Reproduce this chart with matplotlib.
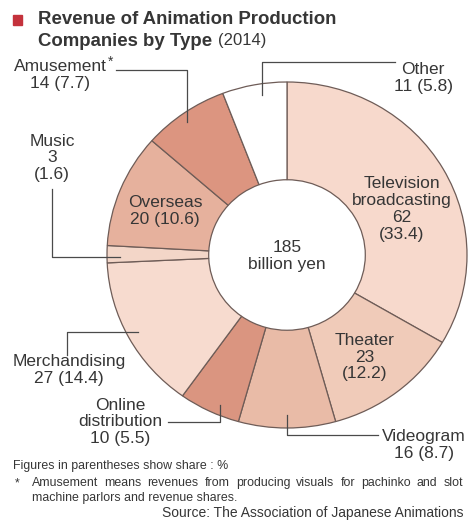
import matplotlib
matplotlib.use("Agg")
import matplotlib.pyplot as plt
from matplotlib.patches import Rectangle

W, H = 468, 522

# Revenue by type, 2014 (billion yen, share %), clockwise from 12 o'clock
categories = ["Television broadcasting", "Theater", "Videogram", "Online distribution",
              "Merchandising", "Music", "Overseas", "Amusement", "Other"]
values = [62, 23, 16, 10, 27, 3, 20, 14, 11]
shares = [33.4, 12.2, 8.7, 5.5, 14.4, 1.6, 10.6, 7.7, 5.8]
colors = ["#f7d9cc", "#f0cbb9", "#e9bba7", "#da9580", "#f7dbcf",
          "#f3d6c8", "#e6b19d", "#dc9580", "#ffffff"]
total = 185

plt.rcParams["font.family"] = ["Liberation Sans", "DejaVu Sans"]
TXT = "#363636"
LINE = "#4a4a4a"


def Y(y):
    # pixel row (from top) -> data y
    return H - y


fig = plt.figure(figsize=(W / 100, H / 100), dpi=100)
ax = fig.add_axes([0, 0, 1, 1])
ax.set_xlim(0, W)
ax.set_ylim(0, H)
ax.axis("off")

# donut in its own box (source image is slightly stretched horizontally)
cx, cy, rx, ry = 287, 255, 180, 173
pax = fig.add_axes([(cx - rx) / W, (H - cy - ry) / H, 2 * rx / W, 2 * ry / H])
pax.pie(shares, colors=colors, startangle=90, counterclock=False, radius=1,
        wedgeprops=dict(width=0.565, edgecolor="#6e5c57", linewidth=0.9))
pax.set_xlim(-1, 1)
pax.set_ylim(-1, 1)
pax.set_aspect("auto")
pax.axis("off")
pax.set_zorder(0)
ax.set_zorder(1)
ax.patch.set_visible(False)

# title
ax.add_patch(Rectangle((13, Y(25)), 9, 10, color="#c4323c"))
ax.text(38, Y(19), "Revenue of Animation Production", fontsize=13.4,
        fontweight="bold", color=TXT, va="center", ha="left")
t2 = ax.text(38, Y(41), "Companies by Type", fontsize=13.4, fontweight="bold",
             color=TXT, va="center", ha="left")
ax.annotate("(2014)", xy=(1, 0.5), xycoords=t2, xytext=(4, 0),
            textcoords="offset points", fontsize=12, color=TXT,
            va="center", ha="left")

lab = dict(fontsize=12.5, color=TXT, linespacing=1.15)


def fmt(i):
    return f"{values[i]} ({shares[i]})"


# centre
ax.text(cx, Y(256), f"{total}\nbillion yen", ha="center", va="center", **lab)

# labels inside the ring
ax.text(402, Y(209), "Television\nbroadcasting\n" + f"{values[0]}\n({shares[0]})",
        ha="center", va="center", **lab)
ax.text(365, Y(357), f"{categories[1]}\n{values[1]}\n({shares[1]})",
        ha="center", va="center", **lab)
ax.text(165, Y(211), f"{categories[6]}\n{fmt(6)}", ha="center", va="center", **lab)

# labels outside with leader lines
ax.text(60, Y(75), f"{categories[7]}\n{fmt(7)}", ha="center", va="center", **lab)
ax.text(108, Y(62), "*", fontsize=10, color=TXT, ha="left", va="center")
ax.plot([116, 187, 187], [Y(70), Y(70), Y(122)], color=LINE, lw=0.9)

ax.text(423, Y(78), f"{categories[8]}\n{fmt(8)}", ha="center", va="center", **lab)
ax.plot([395, 262, 262], [Y(62), Y(62), Y(95)], color=LINE, lw=0.9)

ax.text(52, Y(158), f"{categories[5]}\n{values[5]}\n({shares[5]})",
        ha="center", va="center", **lab)
ax.plot([52, 52, 120], [Y(189), Y(257), Y(257)], color=LINE, lw=0.9)

ax.text(69, Y(370), f"{categories[4]}\n{fmt(4)}", ha="center", va="center", **lab)
ax.plot([67, 67, 138], [Y(355), Y(332), Y(332)], color=LINE, lw=0.9)

ax.text(120, Y(422), "Online\ndistribution\n" + fmt(3), ha="center", va="center", **lab)
ax.plot([168, 220, 220], [Y(422), Y(422), Y(405)], color=LINE, lw=0.9)

ax.text(424, Y(445), f"{categories[2]}\n{fmt(2)}", ha="center", va="center", **lab)
ax.plot([378, 287, 287], [Y(435), Y(435), Y(415)], color=LINE, lw=0.9)

# footnotes
FS = 8.9
foot = dict(fontsize=FS, color=TXT, va="center")
ax.text(13, Y(466), "Figures in parentheses show share : %", ha="left", **foot)
ax.text(15, Y(483), "*", ha="left", **foot)

# justified note line
words = "Amusement means revenues from producing visuals for pachinko and slot".split()
rend = fig.canvas.get_renderer()
arts = [ax.text(0, Y(483), w, ha="left", **foot) for w in words]
widths = [a.get_window_extent(rend).width for a in arts]
x0, x1 = 32, 463
gap = (x1 - x0 - sum(widths)) / (len(words) - 1)
x = x0
for a, w in zip(arts, widths):
    a.set_x(x)
    x += w + gap

ax.text(32, Y(498), "machine parlors and revenue shares.", ha="left", **foot)
ax.text(463, Y(513), "Source: The Association of Japanese Animations", ha="right",
        fontsize=10, color=TXT, va="center")

fig.savefig("out.png", dpi=100)
